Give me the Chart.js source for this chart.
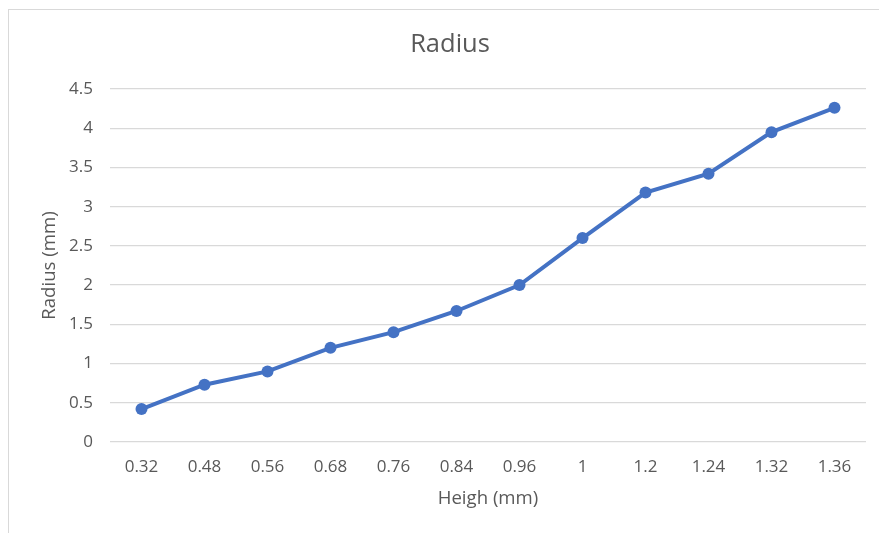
<!DOCTYPE html>
<html>
<head>
<meta charset="utf-8">
<script src="https://cdn.jsdelivr.net/npm/chart.js@4"></script>
<style>
  html, body { margin: 0; padding: 0; background: #fff; overflow: hidden; }
  #wrap { position: relative; width: 879px; height: 533px; }
  #frame { position: absolute; left: 8px; top: 9px; width: 900px; height: 600px; border: 1.5px solid #d9d9d9; box-sizing: border-box; }
  canvas { position: absolute; left: 0; top: 0; }
</style>
</head>
<body>
<div id="wrap">
  <div id="frame"></div>
  <canvas id="c" width="879" height="533"></canvas>
</div>
<script>
const categories = ["0.32", "0.48", "0.56", "0.68", "0.76", "0.84", "0.96", "1", "1.2", "1.24", "1.32", "1.36"];
const radiusValues = [0.42, 0.73, 0.90, 1.20, 1.40, 1.67, 2.00, 2.60, 3.18, 3.42, 3.95, 4.26];
const chartTitle = "Radius";
const xTitle = "Heigh (mm)";
const yTitle = "Radius (mm)";

const FONT = "'Open Sans', 'Liberation Sans', sans-serif";
const TEXT = "#595959";

new Chart(document.getElementById("c"), {
  type: "line",
  data: {
    labels: categories,
    datasets: [{
      data: radiusValues,
      borderColor: "#4472C4",
      backgroundColor: "#4472C4",
      borderWidth: 4,
      pointRadius: 6,
      pointHoverRadius: 6,
      pointBorderWidth: 0,
      tension: 0,
      fill: false
    }]
  },
  options: {
    responsive: false,
    animation: false,
    devicePixelRatio: 1,
    layout: { padding: { left: 34, right: 13, top: 0, bottom: 0 } },
    plugins: {
      legend: { display: false },
      tooltip: { enabled: false },
      title: {
        display: true,
        text: chartTitle,
        color: TEXT,
        font: { family: FONT, size: 25.5, weight: "normal", lineHeight: 1.2 },
        padding: { top: 29.2, bottom: 29.2 }
      }
    },
    scales: {
      x: {
        offset: true,
        grid: { display: false, drawTicks: false },
        border: { display: false },
        ticks: { color: TEXT, font: { family: FONT, size: 17 }, padding: 14.5, maxRotation: 0, autoSkip: false },
        title: { display: true, text: xTitle, color: TEXT, font: { family: FONT, size: 18.6, lineHeight: 1.2 }, padding: { top: 0, bottom: 23.5 } },
        afterFit: (s) => { s.height = 91; }
      },
      y: {
        min: 0,
        max: 4.5,
        ticks: {
          stepSize: 0.5, color: TEXT, font: { family: FONT, size: 17 }, padding: 17,
          callback: (v) => String(Math.round(v * 10) / 10)
        },
        grid: { color: "#d9d9d9", lineWidth: 1.3, drawTicks: false },
        border: { display: false },
        title: { display: true, text: yTitle, color: TEXT, font: { family: FONT, size: 18.6, lineHeight: 1.2 }, padding: { top: 5, bottom: 0 } },
        afterFit: (s) => { s.width = 76; }
      }
    }
  }
});
</script>
</body>
</html>
